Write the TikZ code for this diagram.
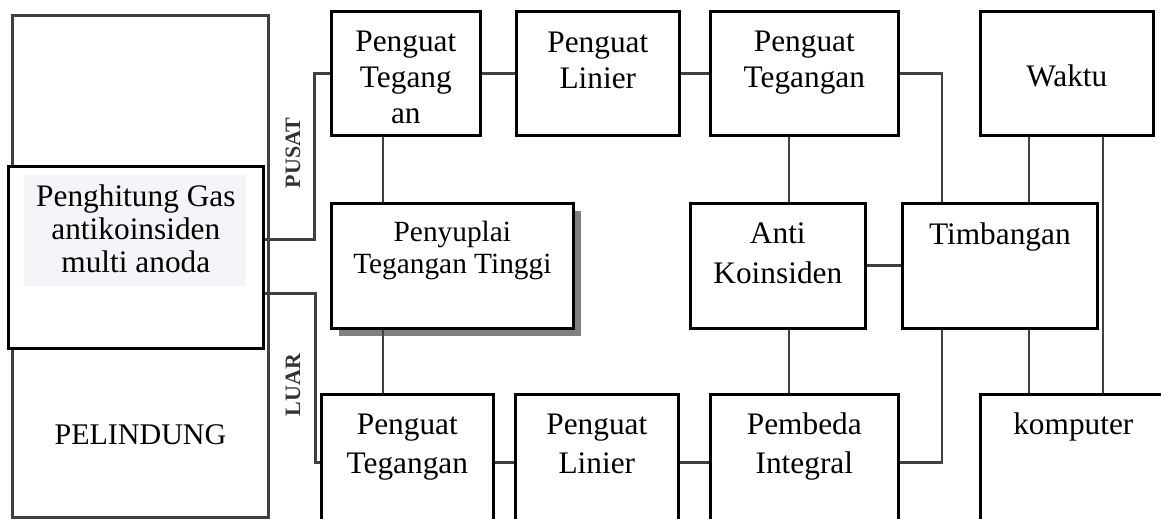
\documentclass[tikz,border=0pt]{standalone}
\usepackage{fontspec}
\setmainfont{Liberation Serif}
\usetikzlibrary{positioning,shadows}

\definecolor{haze}{HTML}{F3F5F8}

% text block of a unit: width, height, first baseline, line skip, lines
\newcommand{\unittext}[5]{\parbox[t][#2][t]{#1}{\centering
  \fontsize{23.5}{#4}\selectfont\rule{0pt}{#3}#5}}

\tikzset{
  frame/.style={draw, line width=2pt, inner sep=0pt, anchor=north west},
  unit/.style={frame, fill=white,
    drop shadow={shadow xshift=1.5pt, shadow yshift=-1.5pt, fill=black!40}},
  shield/.style={frame, draw=black!75, line width=2.2pt},
  wire/.style={draw=black!75, line width=2.2pt},
  tag/.style={font=\bfseries\fontsize{16.5}{16.5}\selectfont,
    text=black!80, rotate=90, inner sep=0pt},
}

\begin{document}
\begin{tikzpicture}[x=0.75pt,y=-0.75pt]
\useasboundingbox (0,0) rectangle (1161,518);

% shield with the counter inside
\node[shield] (pel) at (11,14) {\parbox[t][376.5pt][t]{192pt}{\centering
  \fontsize{22.5}{24}\selectfont\rule{0pt}{322pt}PELINDUNG}};
\fill[white] (7,165) rectangle (262,347);
\fill[haze] (24,175) rectangle (246,286);
\node[frame] (gc) at (7,165) {\parbox[t][136.5pt][t]{191.25pt}{\centering
  \fontsize{23.5}{24.75}\selectfont\rule{0pt}{30pt}Penghitung Gas\\
  antikoinsiden\\ multi anoda}};

\node[tag] (pusat) at (293,153) {PUSAT};
\node[tag] (luar) at (293,385) {LUAR};

% top row
\node[unit] (ptA) at (330,10) {\unittext{111.75pt}{93pt}{30pt}{27pt}{Penguat\\ Tegang\\ an}};
\node[unit] (plA) at (515,10) {\unittext{122.25pt}{93pt}{31pt}{27pt}{Penguat\\ Linier}};
\node[unit] (ptC) at (709,10) {\unittext{141pt}{93pt}{30pt}{27pt}{Penguat\\ Tegangan}};
\node[unit] (waktu) at (979,10) {\unittext{129.75pt}{93pt}{56.25pt}{27pt}{Waktu}};

% middle row
\node[unit, drop shadow={shadow xshift=6pt, shadow yshift=-5.5pt, fill=black!50, opacity=1}]
  (hv) at (330,202) {\parbox[t][93.75pt][t]{181.5pt}{\centering
  \fontsize{22}{24}\selectfont\rule{0pt}{28.5pt}Penyuplai\\ Tegangan Tinggi}};
\node[unit] (anti) at (689,202) {\unittext{131.25pt}{93.75pt}{30pt}{30pt}{Anti\\ Koinsiden}};
\node[unit] (timb) at (901,202) {\unittext{146.25pt}{93.75pt}{30.75pt}{27pt}{Timbangan}};

% bottom row
\node[unit] (pgB) at (320,393) {\unittext{129pt}{102pt}{30pt}{29pt}{Penguat\\ Tegangan}};
\node[unit] (plB) at (514,393) {\unittext{122.25pt}{102pt}{30pt}{29pt}{Penguat\\ Linier}};
\node[unit] (pemb) at (709,393) {\unittext{141pt}{102pt}{30pt}{29pt}{Pembeda\\ Integral}};
\node[unit] (komp) at (979,393) {\unittext{139.5pt}{102pt}{30pt}{29pt}{komputer}};

% vertical buses
\coordinate (busA) at (383,0);
\coordinate (busB) at (789,0);
\coordinate (busC) at (942,0);
\coordinate (busD) at (1029,0);
\coordinate (busE) at (1103,0);

\draw[wire] ([yshift=13.5pt]gc.east) -- ++(50,0) |- (ptA.west);
\draw[wire] ([yshift=-27pt]gc.east) -- ++(51,0) |- (pgB.west);
\draw[wire] (ptA.east) -- (plA.west);
\draw[wire] (plA.east) -- (ptC.west);
\draw[wire] (pgB.east) -- (plB.west);
\draw[wire] (plB.east) -- (pemb.west);
\draw[wire] (anti.east) -- (timb.west);
\draw[wire] (ptA.south -| busA) -- (hv.north -| busA);
\draw[wire] (hv.south -| busA) -- (pgB.north -| busA);
\draw[wire] (ptC.south -| busB) -- (anti.north -| busB);
\draw[wire] (anti.south -| busB) -- (pemb.north -| busB);
\draw[wire] (ptC.east) -| (timb.north -| busC);
\draw[wire] (timb.south -| busC) |- (pemb.east);
\draw[wire] (waktu.south -| busD) -- (timb.north -| busD);
\draw[wire] (timb.south -| busD) -- (komp.north -| busD);
\draw[wire] (waktu.south -| busE) -- (komp.north -| busE);
\end{tikzpicture}
\end{document}
